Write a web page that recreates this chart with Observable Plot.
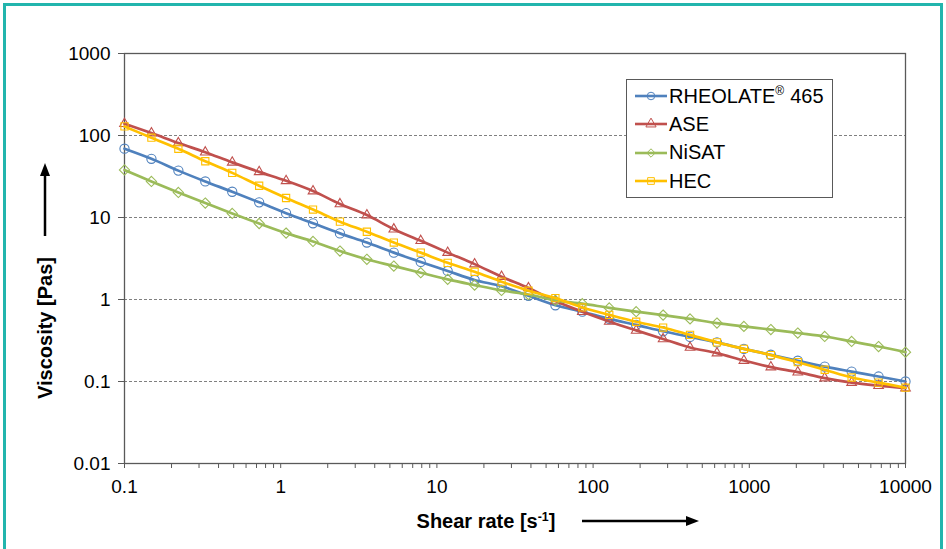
<!DOCTYPE html>
<html>
<head>
<meta charset="utf-8">
<script src="https://cdn.jsdelivr.net/npm/d3@7"></script>
<script src="https://cdn.jsdelivr.net/npm/@observablehq/plot@0.6"></script>
<style>
  html, body { margin: 0; padding: 0; background: #fff; overflow: hidden; }
  #wrap { position: relative; width: 946px; height: 549px; overflow: hidden; background: #fff;
          font-family: Arial, "Liberation Sans", sans-serif; color: #000; }
  #border { position: absolute; left: 3px; top: 3px; width: 940px; height: 620px;
            border: 3px solid #22b5ad; box-sizing: border-box; }
  #chart { position: absolute; left: 0; top: 0; }
  .title { position: absolute; font-weight: bold; font-size: 20px; white-space: nowrap; line-height: 1; }
  .title sup { font-size: 0.62em; vertical-align: 0.55em; line-height: 0; }
  #ytitle { left: 45px; top: 328px; transform: translate(-50%, -50%) rotate(-90deg); }
  #xtitle { left: 486px; top: 521px; transform: translate(-50%, -50%); }
  #arrows { position: absolute; left: 0; top: 0; pointer-events: none; }
  #legend { position: absolute; left: 626px; top: 79px; width: 207px; height: 119px; box-sizing: border-box;
            border: 1px solid #595959; background: #fff; padding-top: 2px; }
  .row { display: flex; align-items: center; height: 28.3px; font-size: 20px; white-space: nowrap; }
  .row svg { margin-left: 8px; margin-right: 2px; flex: none; }
  .row sup { font-size: 0.6em; vertical-align: 0.6em; line-height: 0; margin-right: 6px; }
</style>
</head>
<body>
<div id="wrap">
  <div id="border"></div>
  <div id="chart"></div>
  <div id="ytitle" class="title">Viscosity [Pas]</div>
  <div id="xtitle" class="title">Shear rate [s<sup>-1</sup>]</div>
  <svg id="arrows" width="946" height="549">
    <line x1="45" y1="236" x2="45" y2="174" stroke="#000" stroke-width="2.5"/>
    <polygon points="45,163 40,176 50,176" fill="#000"/>
    <line x1="582" y1="521" x2="688" y2="521" stroke="#000" stroke-width="2.5"/>
    <polygon points="699,521 686,516 686,526" fill="#000"/>
  </svg>
  <div id="legend"></div>
</div>
<script>
// Shear rate [1/s] at each measured point
const shearRate = [0.1, 0.1487, 0.2212, 0.329, 0.4894, 0.7279, 1.0826, 1.610, 2.395, 3.562,
  5.298, 7.880, 11.72, 17.43, 25.93, 38.57, 57.36, 85.32, 126.9, 188.7,
  280.7, 417.5, 620.9, 923.5, 1373.6, 2043, 3039, 4520, 6723, 10000];

// Viscosity [Pas]
const rheolate = [69, 52, 37.3, 27.5, 20.6, 15.3, 11.3, 8.5, 6.4, 4.95,
  3.73, 2.87, 2.23, 1.73, 1.45, 1.11, 0.85, 0.71, 0.58, 0.49,
  0.41, 0.35, 0.30, 0.25, 0.212, 0.179, 0.152, 0.132, 0.115, 0.1];
const ase = [139, 107, 81, 62.5, 47, 36, 28, 21, 14.6, 10.7,
  7.2, 5.2, 3.73, 2.7, 1.9, 1.38, 0.96, 0.71, 0.54, 0.42,
  0.33, 0.26, 0.222, 0.18, 0.15, 0.13, 0.11, 0.097, 0.089, 0.083];
const nisat = [38, 27.5, 20.2, 15, 11.2, 8.45, 6.45, 5.1, 3.9, 3.09,
  2.56, 2.12, 1.76, 1.5, 1.29, 1.15, 0.975, 0.89, 0.79, 0.71,
  0.645, 0.58, 0.516, 0.47, 0.43, 0.39, 0.354, 0.308, 0.267, 0.228];
const hec = [129, 94, 69, 48.5, 35, 24.4, 17.3, 12.5, 8.9, 6.7,
  4.95, 3.73, 2.8, 2.18, 1.65, 1.28, 1.04, 0.8, 0.65, 0.535,
  0.455, 0.37, 0.30, 0.25, 0.21, 0.172, 0.139, 0.112, 0.097, 0.084];

const seriesNames = ["RHEOLATE® 465", "ASE", "NiSAT", "HEC"];
const seriesValues = [rheolate, ase, nisat, hec];
const seriesColors = ["#4f81bd", "#c0504d", "#9bbb59", "#ffc000"];
const seriesSymbols = ["circle", "triangle2", "diamond2", "square2"];

const xTickLabels = [0.1, 1, 10, 100, 1000, 10000];
const yTickLabels = [0.01, 0.1, 1, 10, 100, 1000];
const yGridLines = [0.1, 1, 10, 100];

const xMinor = xTickLabels.slice(0, -1).flatMap(d => [2,3,4,5,6,7,8,9].map(k => d * k));
const xAllTicks = xTickLabels.concat(xMinor);

const data = seriesNames.flatMap((name, i) =>
  shearRate.map((x, j) => ({series: name, x, y: seriesValues[i][j]})));

const marks = [
  Plot.gridY(yGridLines, {stroke: "#808080", strokeOpacity: 1, strokeDasharray: "3,2", strokeWidth: 1}),
  Plot.frame({stroke: "#595959", strokeWidth: 1.3}),
  Plot.axisY({ticks: yTickLabels, tickFormat: d => String(d), tickSize: 6, tickPadding: 8,
              stroke: "#595959", label: null}),
  Plot.axisX({ticks: xAllTicks, tickFormat: d => xTickLabels.includes(d) ? String(d) : "",
              tickSize: 5, tickPadding: 11, stroke: "#595959", label: null})
];
seriesNames.forEach((name, i) => {
  const rows = data.filter(d => d.series === name);
  marks.push(Plot.line(rows, {x: "x", y: "y", stroke: seriesColors[i], strokeWidth: 2.7, curve: "catmull-rom"}));
  marks.push(Plot.dot(rows, {x: "x", y: "y", stroke: seriesColors[i], fill: "none",
                             symbol: seriesSymbols[i], r: 4.6, strokeWidth: 1.1}));
});

const chart = Plot.plot({
  width: 946,
  height: 549,
  marginLeft: 124,
  marginRight: 41,
  marginTop: 53,
  marginBottom: 86,
  x: {type: "log", domain: [0.1, 10000]},
  y: {type: "log", domain: [0.01, 1000]},
  style: {fontFamily: "Arial, 'Liberation Sans', sans-serif", fontSize: "19px", color: "#000", background: "transparent"},
  marks
});
document.getElementById("chart").appendChild(chart);

// Legend
const legend = document.getElementById("legend");
const symbolMap = {circle: d3.symbolCircle, triangle2: d3.symbolTriangle, diamond2: d3.symbolDiamond2, square2: d3.symbolSquare};
seriesNames.forEach((name, i) => {
  const row = document.createElement("div");
  row.className = "row";
  const sw = d3.create("svg").attr("width", 32).attr("height", 14);
  sw.append("line").attr("x1", 0).attr("x2", 32).attr("y1", 7).attr("y2", 7)
    .attr("stroke", seriesColors[i]).attr("stroke-width", 2.6);
  sw.append("path").attr("transform", "translate(16,7)")
    .attr("d", d3.symbol(symbolMap[seriesSymbols[i]], 45)())
    .attr("fill", "none").attr("stroke", seriesColors[i]).attr("stroke-width", 1);
  row.appendChild(sw.node());
  const label = document.createElement("span");
  if (name.includes("®")) {
    const parts = name.split("®");
    label.append(parts[0]);
    const sup = document.createElement("sup");
    sup.textContent = "®";
    label.append(sup);
    label.append(parts[1].trim());
  } else {
    label.textContent = name;
  }
  row.appendChild(label);
  legend.appendChild(row);
});
</script>
</body>
</html>
